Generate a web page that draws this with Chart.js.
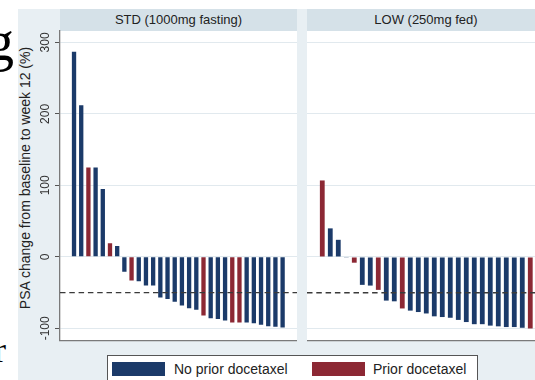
<!DOCTYPE html>
<html>
<head>
<meta charset="utf-8">
<script src="https://cdn.jsdelivr.net/npm/chart.js@4.4.1/dist/chart.umd.min.js"></script>
<style>
html, body { margin: 0; padding: 0; background: #fff; overflow: hidden; }
#wrap { position: relative; width: 535px; height: 380px; overflow: hidden;
        font-family: "Liberation Sans", Arial, sans-serif; color: #222; }
.abs { position: absolute; }
#bg { left: 18px; top: 9px; width: 517px; height: 371px; background: #e8eff3; }
.head { top: 9px; height: 22px; background: #d5e1e8; font-size: 13px; line-height: 22px; text-align: center; }
#ytitle { left: 25px; top: 178px; width: 300px; height: 16px; margin-left: -150px; margin-top: -8px;
          font-size: 14px; line-height: 16px; text-align: center; transform: rotate(-90deg); white-space: nowrap; }
#legend { left: 107px; top: 355px; width: 369px; height: 40px; background: #fff; border: 1px solid #555; }
.sw { top: 362px; width: 53px; height: 14px; }
.lt { top: 362px; font-size: 14px; line-height: 14px; white-space: nowrap; }
.slide { font-family: "Liberation Serif", serif; color: #000; line-height: 1; }
</style>
</head>
<body>
<div id="wrap">
  <div class="abs slide" style="left:-14px;top:13px;font-size:56px;">g</div>
  <div class="abs slide" style="left:-6px;top:332px;font-size:36px;">r</div>
  <div class="abs" id="bg"></div>
  <div class="abs head" id="head0" style="left:60px;width:237px;"></div>
  <div class="abs head" id="head1" style="left:307px;width:238px;"></div>
  <div class="abs" id="ytitle"></div>
  <canvas class="abs" id="stdChart" width="297" height="345" style="left:0;top:0;"></canvas>
  <canvas class="abs" id="lowChart" width="238" height="345" style="left:307px;top:0;"></canvas>
  <div class="abs" id="legend"></div>
</div>
<script>
var panelNames  = ["STD (1000mg fasting)", "LOW (250mg fed)"];
var yTitle      = "PSA change from baseline to week 12 (%)";
var seriesNames = ["No prior docetaxel", "Prior docetaxel"];
var yTicks      = [-100, 0, 100, 200, 300];
var cutoff      = -50;

// best % PSA change per patient, sorted; 1 = prior docetaxel
var stdValues = [287, 212, 125, 125, 95, 19, 15, -21, -33, -34, -40, -40, -57, -59, -63,
                 -68, -72, -74, -82, -86, -87, -89, -92, -92, -92, -93, -95, -97, -98, -99];
var stdPrior  = [0, 0, 1, 0, 0, 1, 0, 0, 1, 0, 0, 0, 0, 0, 0,
                 0, 0, 0, 1, 0, 0, 0, 1, 1, 0, 0, 0, 0, 0, 0];

var lowValues = [107, 40, 24, -1, -8, -39, -40, -46, -61, -62, -72, -75, -77, -79,
                 -83, -84, -85, -88, -91, -94, -94, -96, -97, -98, -98, -99, -100];
var lowPrior  = [1, 0, 0, 0, 1, 0, 0, 1, 0, 0, 1, 0, 0, 0,
                 0, 0, 0, 0, 0, 0, 0, 0, 0, 0, 0, 0, 1];

var BLUE = "#1b3a69";
var RED  = "#8c2834";
var colors = [BLUE, RED];

Chart.defaults.animation = false;
Chart.defaults.font.family = "'Liberation Sans', Arial, sans-serif";

document.getElementById("head0").textContent = panelNames[0];
document.getElementById("head1").textContent = panelNames[1];
document.getElementById("ytitle").textContent = yTitle;

// legend
var leg = document.getElementById("wrap");
var legX = [[112, 174], [312, 373]];
seriesNames.forEach(function (name, i) {
    var sw = document.createElement("div");
    sw.className = "abs sw";
    sw.style.left = legX[i][0] + "px";
    sw.style.background = colors[i];
    leg.appendChild(sw);
    var t = document.createElement("div");
    t.className = "abs lt";
    t.style.left = legX[i][1] + "px";
    t.textContent = name;
    leg.appendChild(t);
});

var panelFill = {
    id: "panelFill",
    beforeDraw: function (chart) {
        var a = chart.chartArea;
        chart.ctx.save();
        chart.ctx.fillStyle = "#fff";
        chart.ctx.fillRect(a.left, a.top, a.right - a.left, a.bottom - a.top);
        chart.ctx.restore();
    }
};

var cutLine = {
    id: "cutLine",
    afterDatasetsDraw: function (chart) {
        var a = chart.chartArea;
        var y = chart.scales.y.getPixelForValue(cutoff);
        var ctx = chart.ctx;
        ctx.save();
        ctx.strokeStyle = "#3a3a3a";
        ctx.lineWidth = 1.3;
        ctx.setLineDash([5.5, 3.8]);
        ctx.beginPath();
        ctx.moveTo(a.left, y);
        ctx.lineTo(a.right, y);
        ctx.stroke();
        ctx.restore();
    }
};

function makeChart(id, values, prior, xmin, xmax, withAxis) {
    var pts = values.map(function (v, i) { return {x: i + 1, y: v}; });
    var cfg = {
        type: "bar",
        data: {
            datasets: [{
                data: pts,
                backgroundColor: prior.map(function (p) { return colors[p]; }),
                borderWidth: 0,
                barPercentage: 0.6,
                categoryPercentage: 1.0
            }]
        },
        options: {
            responsive: false,
            layout: {padding: {top: 31, left: 0, right: 0, bottom: 0}},
            plugins: {legend: {display: false}, tooltip: {enabled: false}},
            scales: {
                x: {
                    type: "linear", min: xmin, max: xmax, offset: false,
                    grid: {display: false, offset: false},
                    border: {display: true, color: "#7a7a7a", width: 1.3},
                    ticks: {display: false},
                    afterFit: function (s) { s.height = 4; }
                },
                y: {
                    min: -117.5, max: 316,
                    afterBuildTicks: function (s) {
                        s.ticks = yTicks.map(function (v) { return {value: v}; });
                    },
                    grid: {color: "#e1e9ee", lineWidth: 1, tickColor: "#555",
                           tickLength: 5, drawTicks: withAxis},
                    border: {display: withAxis, color: "#7a7a7a", width: 1.3},
                    ticks: {display: withAxis, minRotation: 90, maxRotation: 90,
                            crossAlign: "center", padding: -3,
                            color: "#333", font: {size: 12}},
                    afterFit: function (s) { s.width = withAxis ? 60 : 0; }
                }
            }
        },
        plugins: [panelFill, cutLine]
    };
    return new Chart(document.getElementById(id).getContext("2d"), cfg);
}

var stdChart = makeChart("stdChart", stdValues, stdPrior, -0.95, 32.0, true);
var lowChart = makeChart("lowChart", lowValues, lowPrior, -0.91, 28.84, false);
</script>
</body>
</html>
